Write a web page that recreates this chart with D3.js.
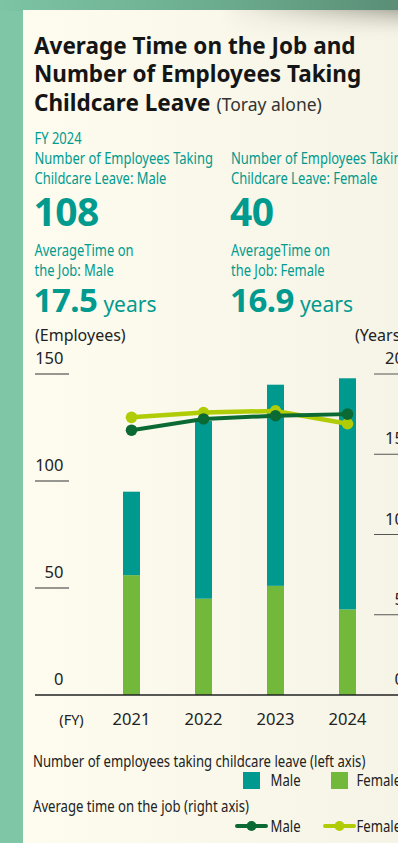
<!DOCTYPE html>
<html>
<head>
<meta charset="utf-8">
<script src="https://cdn.jsdelivr.net/npm/d3@7"></script>
<style>
  html, body { margin: 0; padding: 0; background: #7fc6a7; }
  svg { display: block; }
  text { font-family: "Noto Sans", "Open Sans", sans-serif; }
</style>
</head>
<body>
<svg id="chart" width="398" height="843"></svg>
<script>
// ---- data ----
const years = ["2021", "2022", "2023", "2024"];
const leaveMale = [39, 83, 94, 108];
const leaveFemale = [56, 45, 51, 40];
const tenureMale = [16.5, 17.2, 17.4, 17.5];
const tenureFemale = [17.3, 17.6, 17.7, 16.9];
const leftTicks = [0, 50, 100, 150];
const rightTicks = [0, 5, 10, 15, 20];

const TEAL = "#00998f", LEAF = "#72b83a", DARK = "#0b6a33", LIME = "#b0cc06";
const TEXT_TEAL = "#009a8e";

const svg = d3.select("#chart");
const defs = svg.append("defs");

// card background
const cardGrad = defs.append("linearGradient").attr("id", "cardGrad")
  .attr("x1", 0).attr("y1", 0).attr("x2", 1).attr("y2", 0);
cardGrad.append("stop").attr("offset", 0).attr("stop-color", "#fdfcef");
cardGrad.append("stop").attr("offset", 1).attr("stop-color", "#f5f4e6");
const topGrad = defs.append("linearGradient").attr("id", "topGrad")
  .attr("x1", 0).attr("y1", 0).attr("x2", 1).attr("y2", 0);
topGrad.append("stop").attr("offset", 0).attr("stop-color", "#7cc4a4");
topGrad.append("stop").attr("offset", 0.6).attr("stop-color", "#6aa98c");
topGrad.append("stop").attr("offset", 1).attr("stop-color", "#5a8e76");
const shade = defs.append("linearGradient").attr("id", "shade")
  .attr("x1", 0).attr("y1", 0).attr("x2", 0).attr("y2", 1);
shade.append("stop").attr("offset", 0).attr("stop-color", "#a9a89c").attr("stop-opacity", 0.9);
shade.append("stop").attr("offset", 1).attr("stop-color", "#f5f4e6").attr("stop-opacity", 0);
const shadeX = defs.append("linearGradient").attr("id", "shadeMask")
  .attr("x1", 0).attr("y1", 0).attr("x2", 1).attr("y2", 0);
shadeX.append("stop").attr("offset", 0).attr("stop-color", "#fff").attr("stop-opacity", 0);
shadeX.append("stop").attr("offset", 1).attr("stop-color", "#fff").attr("stop-opacity", 1);
defs.append("mask").attr("id", "fadeMask").append("rect")
  .attr("x", 220).attr("y", 0).attr("width", 178).attr("height", 60).attr("fill", "url(#shadeMask)");

svg.append("rect").attr("width", 398).attr("height", 843).attr("fill", "#7fc6a7");
svg.append("rect").attr("width", 398).attr("height", 11).attr("fill", "url(#topGrad)");
svg.append("rect").attr("x", 23).attr("y", 10).attr("width", 375).attr("height", 833).attr("fill", "url(#cardGrad)");
svg.append("rect").attr("x", 220).attr("y", 10).attr("width", 178).attr("height", 30)
  .attr("fill", "url(#shade)").attr("mask", "url(#fadeMask)");

// condensed text helper: squeeze glyphs horizontally
function squeeze(sel, k) {
  sel.each(function () {
    const w = this.getComputedTextLength();
    d3.select(this).attr("textLength", w * k).attr("lengthAdjust", "spacingAndGlyphs");
  });
  return sel;
}

// ---- title ----
const title = svg.append("g").attr("fill", "#151515").attr("font-weight", 700).attr("font-size", 22.5);
["Average Time on the Job and", "Number of Employees Taking", "Childcare Leave"].forEach((t, i) => {
  title.append("text").attr("x", 34).attr("y", 54 + i * 28.3).text(t);
});
const lastLine = title.selectAll("text").nodes()[2];
svg.append("text").attr("x", 34 + lastLine.getComputedTextLength() + 6).attr("y", 110.6)
  .attr("font-size", 17.5).attr("fill", "#333").text("(Toray alone)");

// ---- FY 2024 highlights ----
const hl = svg.append("g").attr("fill", TEXT_TEAL);
const K = 0.81, FS = 16;
squeeze(hl.append("text").attr("x", 34.5).attr("y", 143.5).attr("font-size", FS).text("FY 2024"), K);
const blocks = [
  { x: 34.5, l1: "Number of Employees Taking", l2: "Childcare Leave: Male", big: leaveMale[3], a1: "AverageTime on", a2: "the Job: Male", yrs: tenureMale[3] },
  { x: 231, l1: "Number of Employees Taking", l2: "Childcare Leave: Female", big: leaveFemale[3], a1: "AverageTime on", a2: "the Job: Female", yrs: tenureFemale[3] }
];
blocks.forEach(b => {
  squeeze(hl.append("text").attr("x", b.x).attr("y", 164).attr("font-size", FS).text(b.l1), K);
  squeeze(hl.append("text").attr("x", b.x).attr("y", 184).attr("font-size", FS).text(b.l2), K);
  hl.append("text").attr("x", b.x - 1).attr("y", 225.5).attr("font-size", 39).attr("font-weight", 700)
    .attr("letter-spacing", -0.5).text(b.big);
  squeeze(hl.append("text").attr("x", b.x).attr("y", 256).attr("font-size", FS).text(b.a1), K);
  squeeze(hl.append("text").attr("x", b.x).attr("y", 276).attr("font-size", FS).text(b.a2), K);
  const num = hl.append("text").attr("x", b.x - 1).attr("y", 311.5).attr("font-size", 33).attr("font-weight", 700)
    .attr("letter-spacing", -0.5).text(b.yrs.toFixed(1));
  hl.append("text").attr("x", b.x - 1 + num.node().getComputedTextLength() + 6).attr("y", 311.5)
    .attr("font-size", 21).text("years");
});

// ---- scales ----
const x = d3.scalePoint().domain(years).range([131.5, 347.5]);
const yL = d3.scaleLinear().domain([0, 150]).range([695, 374]);
const yR = d3.scaleLinear().domain([0, 20]).range([695, 374]);
const barW = 17;

// axis titles
svg.append("text").attr("x", 35).attr("y", 341).attr("font-size", 16).attr("fill", "#222").text("(Employees)");
svg.append("text").attr("x", 355).attr("y", 341).attr("font-size", 16).attr("fill", "#222").text("(Years)");

// left axis ticks
const lt = svg.append("g");
leftTicks.filter(t => t > 0).forEach(t => {
  lt.append("line").attr("x1", 35).attr("x2", 69).attr("y1", yL(t)).attr("y2", yL(t))
    .attr("stroke", "#333").attr("stroke-width", 1.2);
});
leftTicks.forEach(t => {
  lt.append("text").attr("x", 63.5).attr("y", yL(t) - 10).attr("text-anchor", "end")
    .attr("font-size", 16.5).attr("fill", "#222").text(t);
});
// right axis ticks
const rt = svg.append("g");
rightTicks.filter(t => t > 0).forEach(t => {
  rt.append("line").attr("x1", 374).attr("x2", 410).attr("y1", yR(t)).attr("y2", yR(t))
    .attr("stroke", "#555").attr("stroke-width", 1.2);
});
rightTicks.forEach(t => {
  rt.append("text").attr("x", 404).attr("y", yR(t) - 10).attr("text-anchor", "end")
    .attr("font-size", 16.5).attr("fill", "#222").text(t);
});

// stacked bars: female at the bottom, male on top
const stackData = years.map((y, i) => ({ year: y, Female: leaveFemale[i], Male: leaveMale[i] }));
const series = d3.stack().keys(["Female", "Male"])(stackData);
const colors = { Female: LEAF, Male: TEAL };
svg.append("g").selectAll("g").data(series).join("g").attr("fill", s => colors[s.key])
  .selectAll("rect").data(s => s).join("rect")
  .attr("x", d => x(d.data.year) - barW / 2).attr("width", barW)
  .attr("y", d => yL(d[1])).attr("height", d => yL(d[0]) - yL(d[1]));

// baseline
svg.append("line").attr("x1", 35).attr("x2", 398).attr("y1", 695).attr("y2", 695)
  .attr("stroke", "#222").attr("stroke-width", 1.4);

// year labels
svg.append("text").attr("x", 71.5).attr("y", 725).attr("text-anchor", "middle")
  .attr("font-size", 14.5).attr("fill", "#222").text("(FY)");
svg.append("g").selectAll("text").data(years).join("text")
  .attr("x", d => x(d)).attr("y", 725).attr("text-anchor", "middle")
  .attr("font-size", 16.5).attr("fill", "#222").text(d => d);

// tenure lines
const line = d3.line().x(d => x(d.year)).y(d => yR(d.v));
[[tenureFemale, LIME, 4.5], [tenureMale, DARK, 4]].forEach(([vals, c, w]) => {
  const pts = years.map((y, i) => ({ year: y, v: vals[i] }));
  const g = svg.append("g");
  g.append("path").datum(pts).attr("d", line).attr("fill", "none")
    .attr("stroke", c).attr("stroke-width", w).attr("stroke-linejoin", "round");
  g.selectAll("circle").data(pts).join("circle")
    .attr("cx", d => x(d.year)).attr("cy", d => yR(d.v)).attr("r", 5.8).attr("fill", c);
});

// ---- legend ----
const lg = svg.append("g").attr("fill", "#222");
const LK = 0.82;
squeeze(lg.append("text").attr("x", 33).attr("y", 766.5).attr("font-size", 16)
  .text("Number of employees taking childcare leave (left axis)"), LK);
squeeze(lg.append("text").attr("x", 33).attr("y", 812).attr("font-size", 16)
  .text("Average time on the job (right axis)"), LK);
[["Male", TEAL, 243, 270.5], ["Female", LEAF, 331, 356.5]].forEach(([n, c, sx, tx]) => {
  lg.append("rect").attr("x", sx).attr("y", 772).attr("width", 17).attr("height", 17).attr("fill", c);
  squeeze(lg.append("text").attr("x", tx).attr("y", 786).attr("font-size", 16).text(n), LK);
});
[["Male", DARK, 236, 270.5], ["Female", LIME, 324, 356.5]].forEach(([n, c, lx, tx]) => {
  lg.append("line").attr("x1", lx + 1).attr("x2", lx + 30).attr("y1", 826).attr("y2", 826)
    .attr("stroke", c).attr("stroke-width", 4).attr("stroke-linecap", "round");
  lg.append("circle").attr("cx", lx + 15.5).attr("cy", 826).attr("r", 5).attr("fill", c);
  squeeze(lg.append("text").attr("x", tx).attr("y", 832).attr("font-size", 16).text(n), LK);
});
</script>
</body>
</html>
